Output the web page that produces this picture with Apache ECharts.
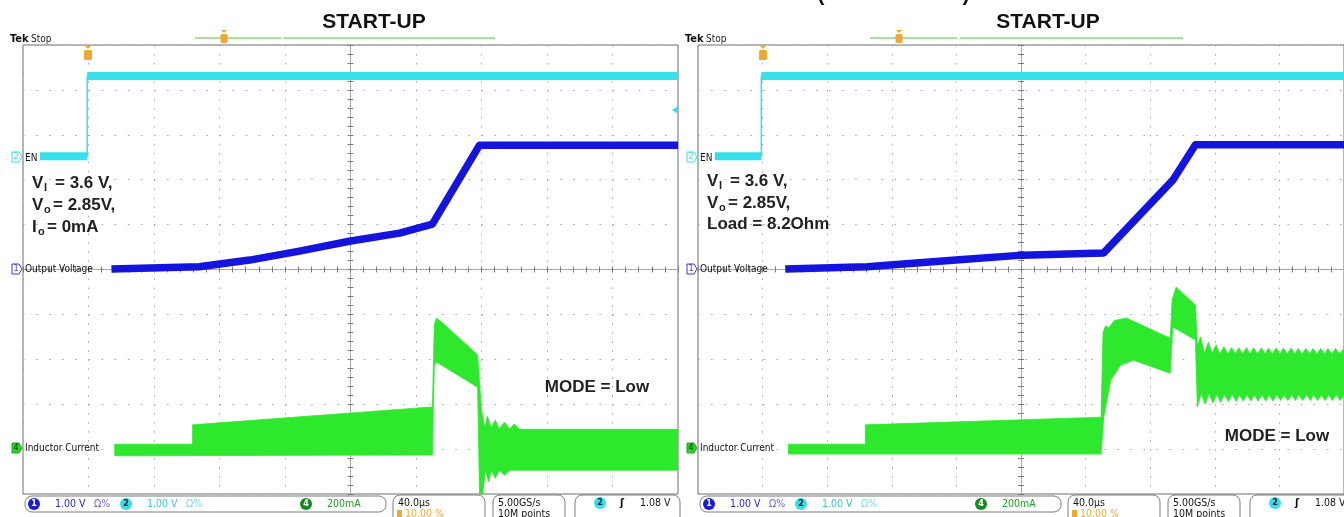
<!DOCTYPE html>
<html>
<head>
<meta charset="utf-8">
<title>Start-up</title>
<script src="https://cdn.jsdelivr.net/npm/echarts@6/dist/echarts.min.js"></script>
<style>
  html, body { margin: 0; padding: 0; background: #fff; overflow: hidden; }
  #chart { width: 1344px; height: 517px; }
</style>
</head>
<body>
<div id="chart"></div>
<script>
// all trace values are in screen divisions measured from the graticule centre
// (x: 40us/div, ch1/ch2 1 V/div, ch4 200 mA/div)

// ---- left scope shot: Io = 0mA ----
const enL = [[-4.74, 2.52], [-4.02, 2.52], [-4.02, 4.31], [5, 4.31]];
const voutL = [[-3.65, 0.01], [-2.31, 0.06], [-1.54, 0.21], [-0.78, 0.41], [-0.02, 0.63],
  [0.75, 0.81], [1.25, 1.01], [1.97, 2.77], [5, 2.77]];
const ilTopL = [[-3.60, -3.89], [-2.41, -3.89], [-2.41, -3.46], [1.25, -3.06], [1.28, -1.24],
  [1.31, -1.08], [1.39, -1.17], [1.94, -1.90], [2.00, -3.13], [2.05, -3.53], [2.09, -3.27],
  [2.15, -3.53], [2.21, -3.35], [2.27, -3.55], [2.35, -3.40], [2.43, -3.55], [2.50, -3.44],
  [2.58, -3.56], [5, -3.56]];
const ilBotL = [[-3.60, -4.15], [1.25, -4.13], [1.28, -2.13], [1.31, -2.06], [1.94, -2.62],
  [1.97, -5.0], [2.02, -5.0], [2.06, -4.47], [2.11, -4.73], [2.15, -4.47], [2.21, -4.65],
  [2.27, -4.47], [2.35, -4.58], [2.43, -4.47], [5, -4.47]];

// ---- right scope shot: Load = 8.2 Ohm ----
const enR = [[-4.74, 2.52], [-4.02, 2.52], [-4.02, 4.31], [5, 4.31]];
const voutR = [[-3.65, 0.01], [-2.38, 0.06], [-1.01, 0.21], [0.02, 0.32], [1.28, 0.37],
  [2.35, 1.99], [2.70, 2.78], [5, 2.78]];
const ilTopR = [[-3.60, -3.89], [-2.41, -3.89], [-2.41, -3.46], [1.24, -3.29], [1.27, -1.40],
  [1.31, -1.25], [1.36, -1.30], [1.44, -1.14], [1.63, -1.08], [2.31, -1.53], [2.34, -0.68],
  [2.40, -0.39], [2.70, -0.79], [2.73, -1.70], [2.78, -1.50], [2.84, -1.86], [2.90, -1.62],
  [2.96, -1.86], [3.02, -1.68], [3.08, -1.88], [3.14, -1.72], [3.20, -1.88], [3.26, -1.74],
  [3.32, -1.88], [3.37, -1.74], [3.43, -1.88], [3.49, -1.74], [3.55, -1.88], [3.60, -1.74],
  [3.66, -1.88], [3.72, -1.75], [3.78, -1.88], [3.83, -1.75], [3.89, -1.88], [3.95, -1.75],
  [4.01, -1.88], [4.06, -1.75], [4.12, -1.88], [4.18, -1.75], [4.24, -1.88], [4.29, -1.76],
  [4.35, -1.88], [4.41, -1.76], [4.47, -1.88], [4.52, -1.76], [4.58, -1.88], [4.64, -1.76],
  [4.70, -1.88], [4.75, -1.76], [4.81, -1.88], [4.87, -1.76], [4.93, -1.88], [5, -1.76]];
const ilBotR = [[-3.60, -4.11], [1.24, -4.11], [1.28, -3.29], [1.39, -2.46], [1.54, -2.13],
  [1.74, -2.02], [2.31, -2.31], [2.35, -1.28], [2.70, -1.57], [2.73, -3.06], [2.79, -2.76],
  [2.85, -3.00], [2.91, -2.76], [2.97, -2.98], [3.03, -2.78], [3.09, -2.96], [3.15, -2.78],
  [3.21, -2.94], [3.27, -2.78], [3.33, -2.94], [3.38, -2.79], [3.44, -2.93], [3.50, -2.79],
  [3.56, -2.93], [3.61, -2.79], [3.67, -2.93], [3.73, -2.79], [3.79, -2.93], [3.84, -2.79],
  [3.90, -2.93], [3.96, -2.79], [4.02, -2.92], [4.07, -2.79], [4.13, -2.92], [4.19, -2.79],
  [4.25, -2.92], [4.30, -2.79], [4.36, -2.92], [4.42, -2.79], [4.48, -2.92], [4.53, -2.79],
  [4.59, -2.92], [4.65, -2.79], [4.71, -2.92], [4.76, -2.79], [4.82, -2.92], [4.88, -2.79],
  [4.94, -2.92], [5, -2.80]];

// ---- texts ----
const titleText = 'START-UP';
const chanLabels = ['EN', 'Output Voltage', 'Inductor Current'];
const condL = [['V', 'I', '= 3.6 V,'], ['V', 'o', '= 2.85V,'], ['I', 'o', '= 0mA']];
const condR = [['V', 'I', '= 3.6 V,'], ['V', 'o', '= 2.85V,'], ['Load = 8.2Ohm', '', '']];
const modeText = 'MODE = Low';
const vScales = ['1.00 V', 'Ω%', '1.00 V', 'Ω%', '200mA'];
const timeBase = ['40.0µs', '10.00 %'];
const sampling = ['5.00GS/s', '10M points'];
const trigLevel = '1.08 V';

const CYAN = '#36dfe9', BLUE = '#1414dd', GREEN = '#2ee82e';
const SCOPE_FONT = '"DejaVu Sans Condensed", "Liberation Sans Narrow", "DejaVu Sans", sans-serif';
const BOLD_FONT = '"Liberation Sans", Arial, sans-serif';

const chart = echarts.init(document.getElementById('chart'));

const grids = [
  { left: 23, top: 45, width: 655, height: 449 },
  { left: 698, top: 45, width: 655, height: 449 },
];

function axisPair(dim, gi) {
  const period = dim === 'x' ? [1.6, 7.38] : [1.6, 11.5];
  const main = {
    type: 'value', gridIndex: gi, min: -5, max: 5, interval: 1,
    position: dim === 'x' ? 'bottom' : 'left',
    axisLabel: { show: false },
    axisLine: { onZero: true, lineStyle: { color: '#9a9a9a', width: 1, type: [1, 1.5] } },
    axisTick: { show: true, length: 3, lineStyle: { color: '#7a7a7a' } },
    minorTick: { show: true, splitNumber: 5, length: 3, lineStyle: { color: '#7a7a7a' } },
    splitLine: { show: true, lineStyle: { color: '#a8a8a8', width: 1, type: period } },
  };
  const mirror = Object.assign({}, main, {
    position: dim === 'x' ? 'top' : 'right',
    axisLine: { onZero: true, lineStyle: { color: '#9a9a9a', width: 1, type: [1, 1.5] } },
    splitLine: { show: false },
  });
  return [main, mirror];
}

function bandSeries(ax, top, bot) {
  return {
    type: 'custom', xAxisIndex: ax, yAxisIndex: ax, clip: true, z: 3,
    data: [[0, 0]],
    renderItem: (params, api) => ({
      type: 'polygon',
      shape: { points: top.concat(bot.slice().reverse()).map(p => api.coord(p)) },
      style: { fill: GREEN, stroke: GREEN, lineWidth: 0.8 },
    }),
  };
}

function lineSeries(ax, data, color, width, z) {
  return {
    type: 'line', xAxisIndex: ax, yAxisIndex: ax, data: data, showSymbol: false,
    silent: true, animation: false, z: z,
    lineStyle: { color: color, width: width, join: 'round', cap: 'butt' },
  };
}

function traces(ax, en, vout, ilTop, ilBot) {
  return [
    bandSeries(ax, ilTop, ilBot),
    lineSeries(ax, vout, BLUE, 7.5, 4),
    lineSeries(ax, en.slice(0, 2), CYAN, 8, 5),
    lineSeries(ax, en.slice(2), CYAN, 8, 5),
    lineSeries(ax, en, CYAN, 1.5, 5),
  ];
}

function txt(x, y, s, font, fill, align) {
  return {
    type: 'text', x: x, y: y, z: 20, silent: true,
    style: {
      text: s, font: font, fill: fill,
      textAlign: align || 'left', textVerticalAlign: 'middle',
      align: align || 'left', verticalAlign: 'middle',
    },
  };
}

function chanMarker(x, y, num, stroke, fill, numColor) {
  return [
    { type: 'polygon', z: 20, silent: true,
      shape: { points: [[x, y - 5], [x + 7, y - 5], [x + 10, y], [x + 7, y + 5], [x, y + 5]] },
      style: { fill: fill, stroke: stroke, lineWidth: 1 } },
    txt(x + 4, y, num, '9px ' + SCOPE_FONT, numColor, 'center'),
  ];
}

function badge(cx, cy, num, fill, color) {
  return [
    { type: 'circle', z: 20, silent: true, shape: { cx: cx, cy: cy, r: 6 }, style: { fill: fill } },
    txt(cx, cy, num, 'bold 9px ' + SCOPE_FONT, color, 'center'),
  ];
}

function boxR(x, y, w, h) {
  return { type: 'rect', z: 19, silent: true, shape: { x: x, y: y, width: w, height: h, r: 7 },
    style: { fill: 'none', stroke: '#7c7c7c', lineWidth: 1 } };
}

function trigMark(x, y, small) {
  const w = small ? 7 : 8, h = small ? 9 : 10;
  return [
    { type: 'rect', z: 21, silent: true, shape: { x: x - w / 2, y: y, width: w, height: h, r: 1.5 },
      style: { fill: '#f0a830' } },
    { type: 'polygon', z: 21, silent: true,
      shape: { points: [[x - 3, y - 4], [x + 3, y - 4], [x, y - 1]] }, style: { fill: '#f0a830' } },
    txt(x, y + h / 2 + 0.5, 'T', 'bold 8px ' + SCOPE_FONT, '#fff', 'center'),
  ];
}

function decor(dx, cond, titleX, modeX, modeY, lineEnd, lineGap) {
  let g = [];
  // header
  g.push(txt(titleX, 22, titleText, 'bold 21px ' + BOLD_FONT, '#111', 'center'));
  g.push(txt(10 + dx, 39, 'Tek', 'bold 11px ' + SCOPE_FONT, '#111'));
  g.push(txt(31 + dx, 39, 'Stop', '10px ' + SCOPE_FONT, '#222'));
  g.push({ type: 'line', z: 18, silent: true, shape: { x1: 195 + dx, y1: 38, x2: lineGap + dx, y2: 38 },
    style: { stroke: '#8fd080', lineWidth: 1.3 } });
  g.push({ type: 'line', z: 18, silent: true, shape: { x1: lineGap + 3 + dx, y1: 38, x2: lineEnd + dx, y2: 38 },
    style: { stroke: '#8fd080', lineWidth: 1.3 } });
  g = g.concat(trigMark(224 + dx, 34, true));
  g = g.concat(trigMark(88 + dx, 50, false));
  // channel markers
  g = g.concat(chanMarker(12 + dx, 157, '2', CYAN, '#fff', CYAN));
  g.push(txt(25 + dx, 158, chanLabels[0], '10px ' + SCOPE_FONT, '#111'));
  g = g.concat(chanMarker(12 + dx, 269, '1', '#3a3ad8', '#fff', '#3a3ad8'));
  g.push(txt(25 + dx, 269, chanLabels[1], '10px ' + SCOPE_FONT, '#111'));
  g = g.concat(chanMarker(12 + dx, 448, '4', '#1faa1f', '#2fcf2f', '#0c3a0c'));
  g.push(txt(25 + dx, 448, chanLabels[2], '10px ' + SCOPE_FONT, '#111'));
  // conditions
  const ys = dx ? [181, 203, 224] : [183, 205, 227];
  const x0 = 32 + dx;
  cond.forEach((c, i) => {
    const bf = 'bold 17px ' + BOLD_FONT;
    if (!c[1]) { g.push(txt(x0, ys[i], c[0], bf, '#222')); return; }
    g.push(txt(x0, ys[i], c[0], bf, '#222'));
    const subX = c[0] === 'I' ? x0 + 6 : x0 + 12;
    g.push(txt(subX, ys[i] + 5, c[1], 'bold 11px ' + BOLD_FONT, '#222'));
    g.push(txt(subX + (c[1] === 'I' ? 11 : 9), ys[i], c[2], bf, '#222'));
  });
  g.push(txt(modeX, modeY, modeText, 'bold 17px ' + BOLD_FONT, '#222', 'center'));
  // status bar
  const sf = '10.5px ' + SCOPE_FONT;
  g.push(boxR(25 + dx, 496, 361, 16));
  g = g.concat(badge(34 + dx, 504, '1', '#1c1cd6', '#fff'));
  g.push(txt(55 + dx, 504, vScales[0], sf, '#2828c8'));
  g.push(txt(94 + dx, 504, vScales[1], sf, '#6a6ad8'));
  g = g.concat(badge(126 + dx, 504, '2', CYAN, '#123'));
  g.push(txt(147 + dx, 504, vScales[2], sf, '#34c8d2'));
  g.push(txt(186 + dx, 504, vScales[3], sf, '#7adbe2'));
  g = g.concat(badge(306 + dx, 504, '4', '#138a1c', '#fff'));
  g.push(txt(327 + dx, 504, vScales[4], sf, '#18a21e'));
  g.push(boxR(393 + dx, 495, 92, 30));
  g.push(txt(398 + dx, 503, timeBase[0], sf, '#111'));
  g.push({ type: 'rect', z: 20, silent: true, shape: { x: 397 + dx, y: 510, width: 5, height: 7 }, style: { fill: '#f0a830' } });
  g.push(txt(405 + dx, 514, timeBase[1], sf, '#f0a830'));
  g.push(boxR(493 + dx, 495, 72, 30));
  g.push(txt(498 + dx, 503, sampling[0], sf, '#111'));
  g.push(txt(498 + dx, 514, sampling[1], sf, '#111'));
  g.push(boxR(575 + dx, 495, 105, 30));
  g = g.concat(badge(600 + dx, 503, '2', CYAN, '#123'));
  g.push(txt(622 + dx, 503, 'ʃ', 'bold 11px ' + SCOPE_FONT, '#111', 'center'));
  g.push(txt(640 + dx, 503, trigLevel, sf, '#111'));
  return g;
}

let graphics = []
  .concat(decor(0, condL, 374, 597, 387, 495, 281))
  .concat(decor(675, condR, 1048, 1277, 436, 508, 282));
// clipped caption above the right shot
graphics.push(txt(821, -5, '(', 'bold 21px ' + BOLD_FONT, '#111', 'center'));
graphics.push(txt(966, -5, ')', 'bold 21px ' + BOLD_FONT, '#111', 'center'));
// ch2 level arrow at the right edge of the left shot
graphics.push({ type: 'polygon', z: 21, silent: true,
  shape: { points: [[672, 110], [678, 106], [678, 114]] }, style: { fill: CYAN } });

const option = {
  animation: false,
  backgroundColor: '#fff',
  grid: grids.map(g => Object.assign({ show: true, borderColor: '#6f6f6f', borderWidth: 1, backgroundColor: '#fff' }, g)),
  xAxis: axisPair('x', 0).concat(axisPair('x', 1)),
  yAxis: axisPair('y', 0).concat(axisPair('y', 1)),
  series: traces(0, enL, voutL, ilTopL, ilBotL).concat(traces(2, enR, voutR, ilTopR, ilBotR)),
  graphic: { elements: graphics },
};

chart.setOption(option);
</script>
</body>
</html>
